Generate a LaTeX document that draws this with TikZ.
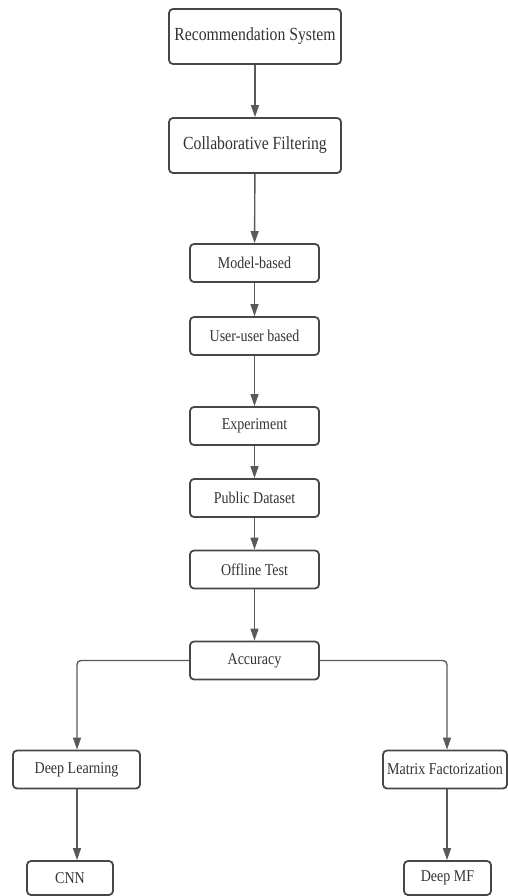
\documentclass[tikz,border=0pt]{standalone}
\usepackage{fontspec}
\setmainfont[FakeStretch=0.85]{Liberation Serif}
\usetikzlibrary{arrows.meta}
\begin{document}
\begin{tikzpicture}[x=1pt,y=-1pt,
  box/.style={draw=black!72, line width=1.8pt, rounded corners=4pt, fill=white,
    inner sep=0pt, text=black!80},
  big/.style={box, minimum width=172pt, minimum height=55pt, font=\fontsize{18.5}{20}\selectfont},
  small/.style={box, minimum height=38pt, font=\fontsize{16.5}{18}\selectfont},
  conn/.style={draw=black!65, line width=1.4pt, rounded corners=4pt,
    -{Triangle[length=12pt,width=8pt]}}]
\useasboundingbox (0,0) rectangle (508,896);
\node[big] (rs) at (255,36.5) {Recommendation System};
\node[big] (cf) at (255,145.5) {Collaborative Filtering};
\node[small, minimum width=129pt] (mb) at (254.5,263) {Model-based};
\node[small, minimum width=129pt] (uu) at (254.5,336) {User-user based};
\node[small, minimum width=129pt] (ex) at (254.5,426) {Experiment};
\node[small, minimum width=129pt] (pd) at (254.5,498) {Public Dataset};
\node[small, minimum width=129pt] (ot) at (254.5,569.5) {Offline Test};
\node[small, minimum width=129pt] (ac) at (254.5,660.5) {Accuracy};
\node[small, minimum width=127pt] (dl) at (76.5,769.5) {Deep Learning};
\node[small, minimum width=124pt] (mf) at (445,769.5) {Matrix Factorization};
\node[small, minimum width=86pt, minimum height=34pt] (cnn) at (70,878) {CNN};
\node[small, minimum width=87pt, minimum height=34pt] (dmf) at (447.5,878) {Deep MF};
\draw[conn] (rs) -- (cf);
\draw[conn] (cf) -- (mb);
\draw[conn] (mb) -- (uu);
\draw[conn] (uu) -- (ex);
\draw[conn] (ex) -- (pd);
\draw[conn] (pd) -- (ot);
\draw[conn] (ot) -- (ac);
\coordinate (lx) at (77,0);
\coordinate (rx) at (447,0);
\draw[conn] (ac.west) -| (lx |- dl.north);
\draw[conn] (ac.east) -| (rx |- mf.north);
\draw[conn] (lx |- dl.south) -- (lx |- cnn.north);
\draw[conn] (rx |- mf.south) -- (rx |- dmf.north);
\end{tikzpicture}
\end{document}
